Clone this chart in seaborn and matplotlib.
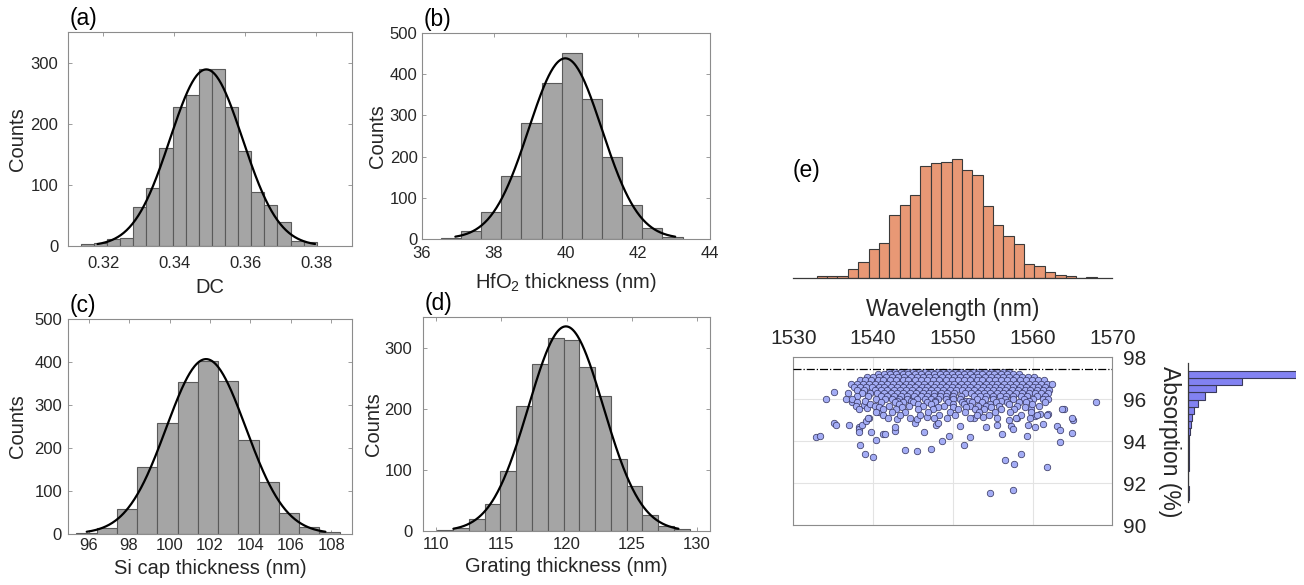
import numpy as np
import pandas as pd
import matplotlib
matplotlib.use("Agg")
import matplotlib.pyplot as plt
import seaborn as sns

# ---------------- datos ----------------
# (a) DC
dc_counts = [3, 5, 12, 13, 63, 95, 160, 228, 247, 290, 290, 228, 156, 89, 67, 40, 8, 7]
dc_lims = (0.3136, 0.3801)

# (b) espesor HfO2 (nm)
hfo2_counts = [2, 18, 64, 153, 281, 379, 453, 340, 199, 82, 25, 5]
hfo2_lims = (36.53, 43.24)

# (c) espesor Si cap (nm)
sicap_counts = [2, 13, 58, 156, 257, 354, 403, 356, 218, 120, 48, 16, 5]
sicap_lims = (95.4, 108.4)

# (d) espesor grating (nm)
grating_counts = [2, 5, 20, 44, 98, 205, 273, 316, 313, 269, 221, 117, 74, 26, 9, 3]
grating_lims = (110.08, 129.44)

# (e) longitud de onda de resonancia (nm)
wl_counts = [2, 2, 2, 14, 26, 48, 57, 103, 119, 136, 184, 189, 191, 195,
             177, 169, 118, 86, 69, 55, 23, 19, 10, 4, 2, 0, 1]
wl_lims = (1532.93, 1568.04)

# (e) absorcion (%) - histograma lateral, de abajo hacia arriba
abs_counts = [2, 3, 0, 0, 3, 3, 6, 6, 9, 14, 20, 32, 49, 83, 146, 235, 465, 924]
abs_lims = (91.21, 97.35)
abs_max = 97.43

# nube densa del scatter: (absorcion, [longitudes de onda])
nube = [
    (97.32, [1542.0, 1542.8, 1543.5, 1544.3, 1545.0, 1545.8, 1546.5, 1547.3, 1548.0, 1548.8, 1549.5,
             1550.3, 1551.0, 1551.8, 1552.5, 1553.3, 1554.0, 1554.8, 1555.5, 1556.3, 1557.0]),
    (97.2, [1540.6, 1541.4, 1542.1, 1542.9, 1543.7, 1544.4, 1545.2, 1546.0, 1546.9, 1547.6, 1548.4,
            1549.2, 1549.9, 1550.7, 1551.4, 1552.2, 1553.0, 1553.7, 1554.5, 1555.2, 1556.0, 1556.8,
            1557.6, 1558.3]),
    (97.05, [1539.2, 1540.0, 1540.8, 1541.6, 1542.4, 1543.1, 1543.9, 1544.7, 1545.5, 1546.3, 1547.0,
             1547.8, 1548.6, 1549.4, 1550.1, 1550.9, 1551.7, 1552.5, 1553.2, 1554.0, 1554.8, 1555.6,
             1556.3, 1557.1, 1557.9, 1558.7, 1559.4, 1560.2]),
    (96.9, [1538.3, 1539.0, 1539.8, 1540.6, 1541.3, 1542.1, 1542.9, 1543.7, 1544.4, 1545.2, 1546.0,
            1546.8, 1547.5, 1548.3, 1549.1, 1549.9, 1550.6, 1551.4, 1552.2, 1553.0, 1553.7, 1554.5,
            1555.3, 1556.1, 1556.8, 1557.6, 1558.4, 1559.2, 1559.9, 1560.7, 1561.4]),
    (96.75, [1537.2, 1538.0, 1538.7, 1539.5, 1540.2, 1541.0, 1541.8, 1542.5, 1543.3, 1544.1, 1544.8,
             1545.6, 1546.4, 1547.2, 1547.9, 1548.7, 1549.5, 1550.2, 1551.0, 1551.8, 1552.5, 1553.3,
             1554.1, 1554.9, 1555.6, 1556.4, 1557.2, 1557.9, 1558.7, 1559.5, 1560.3, 1561.0, 1561.8,
             1562.4]),
    (96.6, [1537.6, 1538.4, 1539.1, 1539.9, 1540.7, 1541.4, 1542.2, 1543.0, 1543.7, 1544.5, 1545.3,
            1546.1, 1546.8, 1547.6, 1548.4, 1549.1, 1549.9, 1550.7, 1551.4, 1552.2, 1553.0, 1553.8,
            1554.5, 1555.3, 1556.1, 1556.8, 1557.6, 1558.4, 1559.2, 1560.0, 1560.7, 1561.5]),
    (96.45, [1538.0, 1538.8, 1540.2, 1541.0, 1541.8, 1542.6, 1543.4, 1544.1, 1544.9, 1545.7, 1546.5,
             1547.3, 1548.0, 1548.8, 1549.6, 1550.4, 1551.1, 1551.9, 1552.7, 1553.5, 1554.3, 1555.0,
             1555.8, 1556.6, 1557.4, 1558.2, 1559.0, 1559.7, 1560.5, 1561.3, 1562.1]),
    (96.3, [1536.8, 1538.6, 1539.6, 1540.5, 1541.4, 1542.2, 1543.0, 1543.8, 1544.6, 1545.4, 1546.2,
            1547.0, 1547.7, 1548.5, 1549.3, 1550.1, 1551.5, 1552.3, 1553.1, 1553.9, 1554.7, 1555.5,
            1556.3, 1557.1, 1557.9, 1558.7, 1559.5, 1560.3, 1561.1, 1561.9]),
    (96.15, [1538.0, 1539.3, 1541.0, 1541.8, 1542.6, 1543.5, 1544.3, 1545.1, 1546.0, 1546.8, 1547.6,
             1548.4, 1549.2, 1550.0, 1551.0, 1552.6, 1553.4, 1554.2, 1555.0, 1555.9, 1556.7, 1557.6,
             1558.5, 1559.3, 1560.6, 1561.6]),
    (96.0, [1536.6, 1537.4, 1540.4, 1541.5, 1542.4, 1543.3, 1544.2, 1545.5, 1546.5, 1547.3, 1548.2,
            1549.1, 1550.0, 1550.9, 1553.0, 1554.0, 1555.0, 1556.5, 1557.5, 1558.9, 1560.0, 1561.3,
            1561.9]),
    (95.92, [1539.0, 1543.0, 1544.8, 1547.8, 1551.6, 1552.0, 1556.0, 1559.6]),
    (95.85, [1538.0, 1541.0, 1542.7, 1543.8, 1545.0, 1546.8, 1547.8, 1549.4, 1551.2, 1552.4, 1553.6,
             1555.4, 1556.8, 1558.3, 1559.2, 1561.5]),
    (95.78, [1539.6, 1543.2, 1545.6, 1547.2, 1550.0, 1551.4, 1554.6, 1557.0, 1559.9]),
    (95.7, [1537.8, 1540.2, 1542.0, 1544.5, 1546.2, 1548.9, 1552.1, 1553.2, 1554.1, 1555.8, 1558.0,
            1560.8]),
    (95.62, [1540.8, 1543.6, 1548.2, 1550.0, 1551.7, 1554.8, 1559.0]),
    (95.55, [1538.2, 1541.2, 1542.9, 1545.6, 1547.5, 1550.6, 1552.8, 1553.9, 1556.1, 1557.7, 1563.7]),
    (95.4, [1540.4, 1542.4, 1544.0, 1546.9, 1549.6, 1551.5, 1553.3, 1555.3, 1557.2, 1559.8]),
    (95.25, [1541.3, 1543.4, 1545.9, 1548.3, 1550.3, 1553.0, 1554.5, 1558.5, 1560.6, 1561.8]),
    (95.1, [1539.4, 1541.9, 1544.6, 1547.6, 1549.3, 1552.1, 1555.6, 1557.9, 1559.7, 1564.9]),
]

# puntos sueltos del scatter
wl_sueltos = [1532.9, 1533.3, 1534.1, 1535.1, 1535.1, 1535.4, 1537.0, 1538.3, 1538.2, 1538.2,
              1538.2, 1539.0, 1540.0, 1538.6, 1539.1, 1539.5, 1539.7, 1540.4, 1541.2, 1541.5,
              1542.8, 1542.8, 1544.0, 1545.5, 1547.2, 1546.4, 1548.6, 1549.5, 1547.9, 1548.1,
              1546.7, 1545.3, 1545.5, 1537.4, 1538.9, 1539.2, 1540.8, 1543.0,
              1567.95, 1563.9, 1565.1, 1565.0, 1563.1, 1563.4, 1563.4, 1561.8, 1558.5, 1557.7,
              1556.5, 1557.5, 1554.6, 1551.4, 1552.1, 1550.9, 1554.2, 1556.2, 1559.3, 1559.4,
              1560.3, 1561.3, 1557.3, 1557.6, 1555.5, 1552.7, 1553.8, 1560.3, 1560.9, 1561.9,
              1559.8, 1558.1, 1557.1]
abs_sueltos = [94.19, 94.24, 96.0, 96.33, 94.86, 94.78, 94.76, 93.82, 94.7, 94.6,
               94.45, 93.40, 93.24, 94.8, 94.95, 95.1, 94.43, 94.06, 94.33, 94.36,
               94.5, 94.7, 93.6, 93.55, 93.62, 94.46, 94.03, 94.27, 94.78, 94.87,
               95.17, 94.89, 95.06, 95.89, 95.73, 95.57, 95.38, 95.06,
               95.87, 95.55, 95.03, 94.41, 94.74, 94.55, 93.95, 92.79, 93.38, 92.92,
               93.09, 91.7, 91.54, 93.81, 94.22, 94.74, 94.67, 94.35, 94.25, 94.78,
               94.7, 94.82, 94.73, 94.57, 94.78, 95.1, 95.17, 95.2, 95.3, 95.3,
               95.52, 95.11, 95.0]

# ---------------- estilo ----------------
sns.set_style("ticks")
plt.rcParams['font.family'] = ['Liberation Sans', 'DejaVu Sans']
plt.rcParams['mathtext.default'] = 'regular'

GRIS_EJE = "#8c8c8c"
TEXTO = "#262626"


def tabla_hist(counts, lims):
    counts = np.array(counts, dtype=float)
    edges = np.linspace(lims[0], lims[1], len(counts) + 1)
    df = pd.DataFrame({"centro": (edges[:-1] + edges[1:]) / 2, "n": counts})
    return df, edges.tolist()


def estilo_caja(ax, labelsize=12):
    for s in ax.spines.values():
        s.set_visible(True)
        s.set_color(GRIS_EJE)
        s.set_linewidth(0.8)
    ax.tick_params(direction="in", top=True, right=True, length=3, width=0.6,
                   colors=GRIS_EJE, labelcolor=TEXTO, labelsize=labelsize)


def histograma_gauss(ax, counts, lims, xlabel, xlim, xticks, ylim, yticks, etiqueta,
                     pad_x, pad_y, pos_xlabel, pos_ylabel):
    df, edges = tabla_hist(counts, lims)
    sns.histplot(data=df, x="centro", weights="n", bins=edges, ax=ax, color="#a5a5a5",
                 alpha=1, edgecolor="#5a5a5a", linewidth=0.8)

    # ajuste normal
    n = df["n"].sum()
    mu = np.average(df["centro"], weights=df["n"])
    sigma = np.sqrt(np.average((df["centro"] - mu) ** 2, weights=df["n"]))
    x = np.linspace(mu - 3 * sigma, mu + 3 * sigma, 300)
    y = n * (edges[1] - edges[0]) / (sigma * np.sqrt(2 * np.pi)) * np.exp(-0.5 * ((x - mu) / sigma) ** 2)
    sns.lineplot(x=x, y=y, ax=ax, color="black", linewidth=1.6)

    ax.set_xlim(xlim)
    ax.set_ylim(ylim)
    ax.set_xticks(xticks)
    ax.set_yticks(yticks)
    ax.set_xlabel(xlabel, fontsize=14.5, color=TEXTO)
    ax.set_ylabel("Counts", fontsize=14.5, color=TEXTO)
    ax.xaxis.set_label_coords(0.5, pos_xlabel)
    ax.yaxis.set_label_coords(pos_ylabel, 0.5)
    estilo_caja(ax)
    ax.tick_params(axis="x", pad=pad_x)
    ax.tick_params(axis="y", pad=pad_y)
    ax.text(0.005, 1.01, etiqueta, transform=ax.transAxes, ha="left", va="bottom",
            fontsize=16.5, color="black")


fig = plt.figure(figsize=(13.04, 5.85), dpi=100)

ax_a = fig.add_axes([0.0521, 0.5795, 0.2178, 0.3658])
ax_b = fig.add_axes([0.3234, 0.5920, 0.2211, 0.3511])
ax_c = fig.add_axes([0.0524, 0.0877, 0.2173, 0.3665])
ax_d = fig.add_axes([0.3246, 0.0923, 0.2199, 0.3658])

histograma_gauss(ax_a, dc_counts, dc_lims, "DC", (0.31, 0.39),
                 [0.32, 0.34, 0.36, 0.38], (0, 350), [0, 100, 200, 300], "(a)",
                 7, 7, -0.15, -0.143)
ax_a.set_xticklabels(["0.32", "0.34", "0.36", "0.38"])
histograma_gauss(ax_b, hfo2_counts, hfo2_lims, "HfO$_2$ thickness (nm)", (36, 44),
                 [36, 38, 40, 42, 44], (0, 500), [0, 100, 200, 300, 400, 500], "(b)",
                 5, 3, -0.155, -0.12)
histograma_gauss(ax_c, sicap_counts, sicap_lims, "Si cap thickness (nm)", (95, 109),
                 [96, 98, 100, 102, 104, 106, 108], (0, 500), [0, 100, 200, 300, 400, 500], "(c)",
                 3, 4.5, -0.12, -0.146)
histograma_gauss(ax_d, grating_counts, grating_lims, "Grating thickness (nm)", (109, 131),
                 [110, 115, 120, 125, 130], (0, 350), [0, 100, 200, 300], "(d)",
                 4, 8, -0.12, -0.141)

# ---------------- panel (e) ----------------
ax_sc = fig.add_axes([0.6084, 0.1020, 0.2446, 0.2872])
ax_top = fig.add_axes([0.6084, 0.5253, 0.2446, 0.2097])
ax_der = fig.add_axes([0.9113, 0.1020, 0.0826, 0.2872])

wl_pts = list(wl_sueltos)
abs_pts = list(abs_sueltos)
for a, xs in nube:
    wl_pts += xs
    abs_pts += [a] * len(xs)
puntos = pd.DataFrame({"wl": wl_pts, "abs": abs_pts})

ax_sc.grid(True, color="#e3e3e3", linewidth=0.8)
ax_sc.set_axisbelow(True)
sns.scatterplot(data=puntos, x="wl", y="abs", ax=ax_sc, s=22, color="#a3acf5",
                edgecolor="#30305a", linewidth=0.5, zorder=3)
ax_sc.axhline(abs_max, color="black", linestyle="-.", linewidth=0.9, zorder=4)
ax_sc.set_xlim(1530, 1570)
ax_sc.set_ylim(90, 98)
ax_sc.set_xticks([1530, 1540, 1550, 1560, 1570])
ax_sc.set_yticks([90, 92, 94, 96, 98])
ax_sc.xaxis.tick_top()
ax_sc.xaxis.set_label_position("top")
ax_sc.yaxis.tick_right()
estilo_caja(ax_sc, 15)
ax_sc.tick_params(length=0, labeltop=True, labelbottom=False, labelright=True, labelleft=False)
ax_sc.tick_params(axis="x", pad=7)
ax_sc.tick_params(axis="y", pad=7.5)
ax_sc.set_xlabel("Wavelength (nm)", fontsize=16.5, color=TEXTO, labelpad=9)
ax_sc.set_ylabel("")

# histograma superior
df_wl, wl_edges = tabla_hist(wl_counts, wl_lims)
sns.histplot(data=df_wl, x="centro", weights="n", bins=wl_edges, ax=ax_top,
             color="#e89875", alpha=1, edgecolor="#3a3a3a", linewidth=0.8)
ax_top.set_xlim(1530, 1570)
ax_top.set_ylim(0, 202)
for lado in ["top", "right", "left"]:
    ax_top.spines[lado].set_visible(False)
ax_top.spines["bottom"].set_color("#3a3a3a")
ax_top.spines["bottom"].set_linewidth(0.9)
ax_top.set_xticks([])
ax_top.set_yticks([])
ax_top.set_xlabel("")
ax_top.set_ylabel("")
ax_top.patch.set_alpha(0)

# histograma lateral
df_ab, ab_edges = tabla_hist(abs_counts, abs_lims)
sns.histplot(data=df_ab, y="centro", weights="n", bins=ab_edges, ax=ax_der,
             color="#8282f2", alpha=1, edgecolor="#3a3a5a", linewidth=0.8)
ax_der.set_ylim(90, 98)
ax_der.set_xlim(0, 927)
for lado in ["top", "right", "bottom"]:
    ax_der.spines[lado].set_visible(False)
ax_der.spines["left"].set_color("#3a3a3a")
ax_der.spines["left"].set_linewidth(0.9)
ax_der.spines["left"].set_bounds(91.12, 97.71)
ax_der.set_xticks([])
ax_der.set_yticks([])
ax_der.set_xlabel("")
ax_der.set_ylabel("")
ax_der.patch.set_alpha(0)

fig.text(1170 / 1304, 1 - 441.7 / 585, "Absorption (%)", rotation=270, ha="center", va="center",
         fontsize=16.5, color=TEXTO)
fig.text(806 / 1304, 1 - 170 / 585, "(e)", ha="center", va="center", fontsize=16.5, color="black")

fig.savefig("out.png", dpi=100)
